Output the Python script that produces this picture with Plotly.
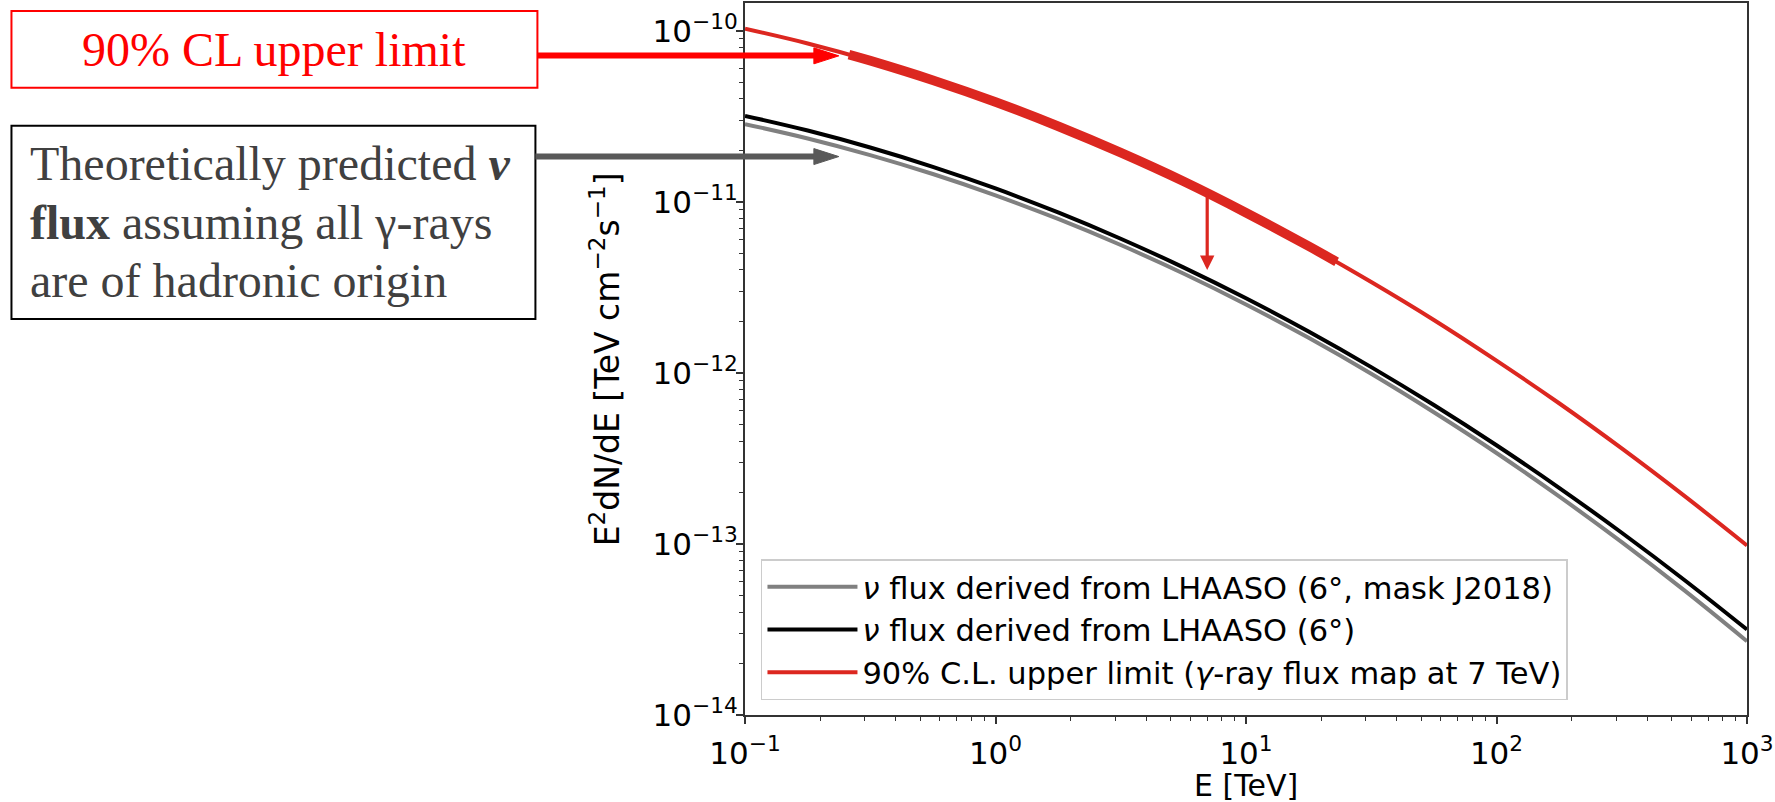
import math
import plotly.graph_objects as go

# ---------------- data ----------------
energy_tev = [0.1, 0.178, 0.316, 0.562, 1, 1.778, 3.162, 5.623, 10,
              17.78, 31.62, 56.23, 100, 177.8, 316.2, 562.3, 1000]
flux_lhaaso_mask = [2.851e-11, 2.350e-11, 1.879e-11, 1.456e-11, 1.093e-11,
                    7.95e-12, 5.596e-12, 3.815e-12, 2.516e-12, 1.604e-12,
                    9.89e-13, 5.89e-13, 3.404e-13, 1.897e-13, 1.025e-13,
                    5.35e-14, 2.70e-14]
flux_lhaaso = [3.184e-11, 2.614e-11, 2.080e-11, 1.604e-11, 1.199e-11,
               8.68e-12, 6.093e-12, 4.145e-12, 2.733e-12, 1.746e-12,
               1.081e-12, 6.49e-13, 3.776e-13, 2.129e-13, 1.163e-13,
               6.16e-14, 3.16e-14]
flux_upper_limit = [1.03e-10, 8.44e-11, 6.70e-11, 5.15e-11, 3.84e-11,
                    2.77e-11, 1.94e-11, 1.32e-11, 8.65e-12, 5.51e-12,
                    3.40e-12, 2.04e-12, 1.18e-12, 6.65e-13, 3.62e-13,
                    1.91e-13, 9.80e-14]
# sensitive energy range drawn with a thick line
band_energy = [0.26, 0.316, 0.562, 1, 1.778, 3.162, 5.623, 10, 17.78, 23]
band_flux = [7.27e-11, 6.70e-11, 5.15e-11, 3.84e-11, 2.77e-11, 1.94e-11,
             1.32e-11, 8.65e-12, 5.51e-12, 4.46e-12]
# upper-limit arrow at 7 TeV
arrow_energy = 7.0
arrow_from = 1.13e-11
arrow_to = 4.0e-12

legend_names = [
    "<i>ν</i> flux derived from LHAASO (6°, mask J2018)",
    "<i>ν</i> flux derived from LHAASO (6°)",
    "90% C.L. upper limit (<i>γ</i>-ray flux map at 7 TeV)",
]
x_tickvals = [0.1, 1, 10, 100, 1000]
x_ticktext = ["10<sup>−1</sup>", "10<sup>0</sup>", "10<sup>1</sup>",
              "10<sup>2</sup>", "10<sup>3</sup>"]
y_tickvals = [1e-14, 1e-13, 1e-12, 1e-11, 1e-10]
y_ticktext = ["10<sup>−14</sup>", "10<sup>−13</sup>", "10<sup>−12</sup>",
              "10<sup>−11</sup>", "10<sup>−10</sup>"]

# ---------------- geometry / style ----------------
FIG_W, FIG_H = 1775, 802
PL, PR, PT, PB = 745, 1749, 1, 715
PW, PH = PR - PL, PB - PT


def px2x(px):
    return (px - PL) / PW


def py2y(py):
    return (PB - py) / PH


RED = "#dc2720"
SANS = "DejaVu Sans"
SERIF = "Liberation Serif, Times New Roman, serif"

x_minor = [m * 10 ** d for d in range(-1, 3) for m in range(2, 10)]
y_minor = [m * 10 ** d for d in range(-14, -9) for m in range(2, 10)]

fig = go.Figure()
fig.add_trace(go.Scatter(x=energy_tev, y=flux_lhaaso_mask, mode="lines",
                         line=dict(color="#808080", width=4, shape="spline"),
                         name=legend_names[0]))
fig.add_trace(go.Scatter(x=energy_tev, y=flux_lhaaso, mode="lines",
                         line=dict(color="black", width=4, shape="spline"),
                         name=legend_names[1]))
fig.add_trace(go.Scatter(x=energy_tev, y=flux_upper_limit, mode="lines",
                         line=dict(color=RED, width=4, shape="spline"),
                         name=legend_names[2]))
fig.add_trace(go.Scatter(x=band_energy, y=band_flux, mode="lines",
                         line=dict(color=RED, width=9.5, shape="spline"),
                         showlegend=False))

axis_common = dict(
    type="log", showgrid=False, zeroline=False,
    showline=True, linecolor="#333333", linewidth=2, mirror=True,
    ticks="outside", ticklen=7, tickwidth=1.5, tickcolor="#333333",
    tickfont=dict(family=SANS, size=31, color="black"),
)
fig.update_xaxes(range=[-1, 3], tickvals=x_tickvals, ticktext=x_ticktext,
                 ticklabeloverflow="allow", ticklabelstandoff=3,
                 minor=dict(tickvals=x_minor, ticks="outside", ticklen=4,
                            tickwidth=1.2, tickcolor="#333333"),
                 **axis_common)
fig.update_yaxes(range=[-14, -9.837], tickvals=y_tickvals, ticktext=y_ticktext,
                 ticklabelstandoff=-8,
                 minor=dict(tickvals=y_minor, ticks="outside", ticklen=4,
                            tickwidth=1.2, tickcolor="#333333"),
                 **axis_common)

shapes = []
# red annotation box + arrow
shapes.append(dict(type="rect", xref="paper", yref="paper",
                   x0=px2x(10), x1=px2x(537), y0=py2y(86), y1=py2y(9),
                   line=dict(color="#ff0000", width=2), fillcolor="white"))
shapes.append(dict(type="line", xref="paper", yref="paper",
                   x0=px2x(537), x1=px2x(816), y0=py2y(53.7), y1=py2y(53.7),
                   line=dict(color="#ff0000", width=6)))
shapes.append(dict(type="path", xref="paper", yref="paper",
                   path="M{},{} L{},{} L{},{} Z".format(
                       px2x(814), py2y(46), px2x(839), py2y(54),
                       px2x(814), py2y(62)),
                   line=dict(color="#ff0000", width=1), fillcolor="#ff0000"))
# gray annotation box + arrow
shapes.append(dict(type="rect", xref="paper", yref="paper",
                   x0=px2x(10), x1=px2x(535), y0=py2y(318), y1=py2y(124),
                   line=dict(color="black", width=2), fillcolor="white"))
shapes.append(dict(type="line", xref="paper", yref="paper",
                   x0=px2x(535), x1=px2x(816), y0=py2y(155), y1=py2y(155),
                   line=dict(color="#595959", width=6)))
shapes.append(dict(type="path", xref="paper", yref="paper",
                   path="M{},{} L{},{} L{},{} Z".format(
                       px2x(814), py2y(147), px2x(839), py2y(155),
                       px2x(814), py2y(163)),
                   line=dict(color="#595959", width=1), fillcolor="#595959"))

annotations = []
annotations.append(dict(text="90% CL upper limit", xref="paper", yref="paper",
                        x=px2x(273), y=py2y(48), xanchor="center", yanchor="middle",
                        showarrow=False,
                        font=dict(family=SERIF, size=48, color="#ff0000")))
gray_lines = ["Theoretically predicted <b><i>ν</i></b>",
              "<b>flux</b> assuming all γ-rays",
              "are of hadronic origin"]
for txt, cy in zip(gray_lines, [162, 221, 279]):
    annotations.append(dict(text=txt, xref="paper", yref="paper",
                            x=px2x(27), y=py2y(cy), xanchor="left", yanchor="middle",
                            showarrow=False,
                            font=dict(family=SERIF, size=48, color="#404040")))
# axis titles
annotations.append(dict(text="E<sup>2</sup>dN/dE [TeV cm<sup>−2</sup>s<sup>−1</sup>]",
                        xref="paper", yref="paper", x=px2x(605), y=0.5,
                        xanchor="center", yanchor="middle", textangle=-90,
                        showarrow=False, font=dict(family=SANS, size=33, color="black")))
annotations.append(dict(text="E [TeV]", xref="paper", yref="paper",
                        x=0.5, y=py2y(786), xanchor="center", yanchor="middle",
                        showarrow=False, font=dict(family=SANS, size=30, color="black")))
# upper-limit arrow at 7 TeV
annotations.append(dict(text="", xref="x", yref="y",
                        x=math.log10(arrow_energy), y=math.log10(arrow_to),
                        ax=math.log10(arrow_energy), ay=math.log10(arrow_from),
                        axref="x", ayref="y", showarrow=True,
                        arrowhead=2, arrowsize=0.9, arrowwidth=3.2,
                        arrowcolor=RED))

fig.update_layout(
    width=FIG_W, height=FIG_H,
    margin=dict(l=PL, r=FIG_W - PR, t=PT, b=FIG_H - PB),
    paper_bgcolor="white", plot_bgcolor="white",
    shapes=shapes, annotations=annotations,
    showlegend=True,
    legend=dict(x=px2x(761), y=py2y(700), xanchor="left", yanchor="bottom",
                bgcolor="white", bordercolor="#cccccc", borderwidth=1.5,
                font=dict(family=SANS, size=30.5, color="black"),
                itemwidth=90),
)

fig.write_html("out.html")
